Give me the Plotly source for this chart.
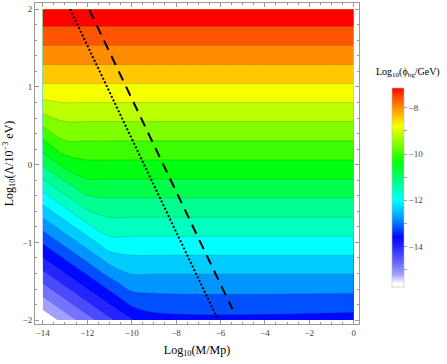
import plotly.graph_objects as go

# grid of log10(M/Mp) and log10(Lambda/1e-3 eV)
log_m = [-14, -13, -12, -11, -10, -9, 0]
log_lam = [-2.0, -1.75, -1.5, -1.25, -1.0, -0.75, -0.5, -0.25, 0.0,
           0.25, 0.5, 0.75, 1.0, 1.25, 1.5, 1.75, 2.0]

# log10(phi_bg/GeV), one row per log_lam value
log_phi = [
    [-15.93, -15.45, -14.98, -14.50, -14.03, -13.76, -13.76],
    [-15.33, -14.86, -14.38, -13.91, -13.43, -13.35, -13.35],
    [-14.74, -14.26, -13.79, -13.31, -12.95, -12.95, -12.95],
    [-14.14, -13.67, -13.19, -12.72, -12.54, -12.54, -12.54],
    [-13.55, -13.07, -12.60, -12.13, -12.13, -12.13, -12.13],
    [-12.95, -12.48, -12.00, -11.72, -11.72, -11.72, -11.72],
    [-12.36, -11.88, -11.41, -11.32, -11.32, -11.32, -11.32],
    [-11.76, -11.29, -10.91, -10.91, -10.91, -10.91, -10.91],
    [-11.17, -10.69, -10.50, -10.50, -10.50, -10.50, -10.50],
    [-10.57, -10.10, -10.09, -10.09, -10.09, -10.09, -10.09],
    [-9.98, -9.69, -9.69, -9.69, -9.69, -9.69, -9.69],
    [-9.38, -9.28, -9.28, -9.28, -9.28, -9.28, -9.28],
    [-8.87, -8.87, -8.87, -8.87, -8.87, -8.87, -8.87],
    [-8.46, -8.46, -8.46, -8.46, -8.46, -8.46, -8.46],
    [-8.06, -8.06, -8.06, -8.06, -8.06, -8.06, -8.06],
    [-7.65, -7.65, -7.65, -7.65, -7.65, -7.65, -7.65],
    [-7.24, -7.24, -7.24, -7.24, -7.24, -7.24, -7.24],
]

# the two bound lines
dotted_m = [-12.77, -6.17]
dotted_lam = [2.0, -1.96]
dashed_m = [-11.9, -5.46]
dashed_lam = [1.99, -1.86]

# colours of the filled bands, lowest to highest
band_colors = ['#FFFFFF', '#A0A0FF', '#7373FF', '#4A4AFF', '#2424FF', '#0008FF',
               '#0050FF', '#0095FF', '#00CCFF', '#00FFFF', '#00FFC0', '#00FF90',
               '#00FF48', '#00FF10', '#3CFF00', '#80FF00', '#BBFF00', '#F5FF00',
               '#FFC800', '#FF8C00', '#FF5500', '#FF0000']

lev_start, lev_end, lev_size = -15.6, -7.6, 0.4
cb_min, cb_max = -15.75, -7.15

n = len(band_colors) - 1
band_scale = [[k / n, c] for k, c in enumerate(band_colors)]

# smooth scale for the legend bar
cb_scale = [[0.0, '#FFFFFF']]
for k, c in enumerate(band_colors[:-1]):
    v = lev_start + lev_size * k
    cb_scale.append([(v - cb_min) / (cb_max - cb_min), c])
cb_scale.append([1.0, band_colors[-1]])

font = "Liberation Serif"

fig = go.Figure()

fig.add_trace(go.Contour(
    x=log_m, y=log_lam, z=log_phi,
    autocontour=False,
    contours=dict(start=lev_start, end=lev_end, size=lev_size, coloring='fill'),
    colorscale=band_scale,
    line=dict(color='rgba(0,0,0,0.22)', width=0.7),
    showscale=False,
    hoverinfo='skip',
))

fig.add_trace(go.Scatter(
    x=dotted_m, y=dotted_lam, mode='lines',
    line=dict(color='black', width=2, dash='2px,2px'),
    showlegend=False, hoverinfo='skip',
))
fig.add_trace(go.Scatter(
    x=dashed_m, y=dashed_lam, mode='lines',
    line=dict(color='black', width=2, dash='10px,7px'),
    showlegend=False, hoverinfo='skip',
))

# legend bar
fig.add_trace(go.Scatter(
    x=[None], y=[None], mode='markers',
    marker=dict(
        color=[-10], cmin=cb_min, cmax=cb_max, colorscale=cb_scale, showscale=True,
        colorbar=dict(
            thickness=12, thicknessmode='pixels', len=219, lenmode='pixels',
            x=1.071, xanchor='left', y=0.425, yanchor='middle',
            outlinewidth=0.6, outlinecolor='#bbbbbb',
            tickvals=[-15, -14, -13, -12, -11, -10, -9, -8],
            ticktext=['', '\u221214', '', '\u221212', '', '\u221210', '', '\u22128'],
            ticks='outside', ticklen=3, tickcolor='#999999',
            tickfont=dict(family=font, size=9, color='#444444'),
        ),
    ),
    showlegend=False, hoverinfo='skip',
))

axis_common = dict(
    showgrid=False, zeroline=False, showline=True, linecolor='#999999', linewidth=1,
    mirror='ticks', ticks='inside', ticklen=4, tickcolor='#999999', automargin=False,
    tickfont=dict(family=font, size=9, color='#444444'),
)

fig.update_layout(
    width=447, height=364,
    margin=dict(l=35, r=88, t=3, b=40, autoexpand=False),
    plot_bgcolor='white', paper_bgcolor='white',
    xaxis=dict(
        range=[-14.35, 0.24],
        tickvals=[-14, -12, -10, -8, -6, -4, -2, 0],
        ticktext=['\u221214', '\u221212', '\u221210', '\u22128', '\u22126', '\u22124', '\u22122', '0'],
        minor=dict(dtick=0.5, tick0=0, ticks='inside', ticklen=2, tickcolor='#999999'),
        title=dict(text='Log<sub>10</sub>(M/Mp)', font=dict(family=font, size=12, color='black'), standoff=8),
        **axis_common,
    ),
    yaxis=dict(
        range=[-2.05, 2.08],
        tickvals=[-2, -1, 0, 1, 2],
        ticktext=['\u22122', '\u22121', '0', '1', '2'],
        minor=dict(dtick=0.2, tick0=0, ticks='inside', ticklen=2, tickcolor='#999999'),
        title=dict(text='Log<sub>10</sub>(\u039b/10<sup>\u22123</sup> eV)', font=dict(family=font, size=12, color='black'), standoff=6),
        **axis_common,
    ),
    annotations=[dict(
        text='Log<sub>10</sub>(\u03d5<sub>bg</sub>/GeV)', xref='paper', yref='paper',
        x=1.151, y=0.785, xanchor='center', yanchor='middle', showarrow=False,
        font=dict(family=font, size=10, color='black'),
    )],
)

# page body has an 8px margin by default; drop it so the figure sits at 0,0
fig.write_html("out.html", config={'displayModeBar': False},
               post_script="document.body.style.margin='0';")
